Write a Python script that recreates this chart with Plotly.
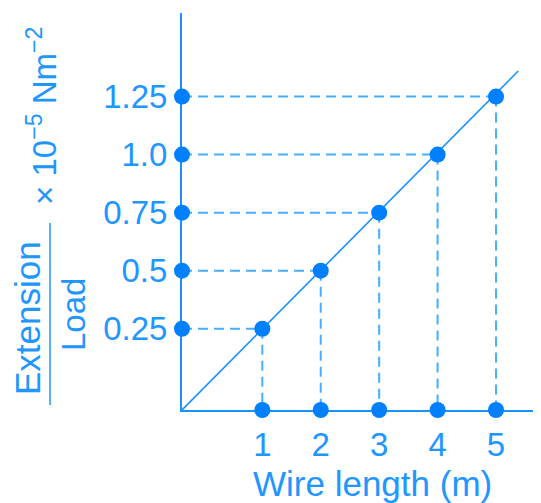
import plotly.graph_objects as go

# ---- data ----
wire_length = [1, 2, 3, 4, 5]
ext_per_load = [0.25, 0.5, 0.75, 1.0, 1.25]
y_tick_labels = ["0.25", "0.5", "0.75", "1.0", "1.25"]
x_tick_labels = ["1", "2", "3", "4", "5"]
axis_origin = (-0.375, -0.1)      # where the two axes meet
line_end = (5.38, 1.36)           # end of the straight line
x_range = [-0.375, 5.77]
y_range = [-0.1, 1.61]

TXT = "rgb(33,150,255)"
AX = "rgb(25,145,255)"
DOT = "rgb(0,128,255)"
DASH = "rgb(70,175,255)"
FONT = "Liberation Sans"

x0, y0 = axis_origin

# dashed guide lines
hx, hy, vx, vy = [], [], [], []
for x, y in zip(wire_length, ext_per_load):
    hx += [x0, x, None]
    hy += [y, y, None]
    vx += [x, x, None]
    vy += [y, y0, None]

fig = go.Figure()
fig.add_trace(go.Scatter(x=hx, y=hy, mode="lines",
                         line=dict(color=DASH, width=2, dash="10px,6px"),
                         hoverinfo="skip", cliponaxis=False))
fig.add_trace(go.Scatter(x=vx, y=vy, mode="lines",
                         line=dict(color=DASH, width=2, dash="10px,6px"),
                         hoverinfo="skip", cliponaxis=False))
fig.add_trace(go.Scatter(x=[x0, line_end[0]], y=[y0, line_end[1]], mode="lines",
                         line=dict(color=AX, width=1.6), cliponaxis=False))
# dots on the line, on the y axis and on the x axis
fig.add_trace(go.Scatter(
    x=wire_length + [x0] * len(ext_per_load) + wire_length,
    y=ext_per_load + ext_per_load + [y0] * len(wire_length),
    mode="markers", marker=dict(color=DOT, size=16, line=dict(width=0)),
    cliponaxis=False))

# page pixel -> paper fraction (page has an 8px body margin)
frac_paper = lambda px: (px - 182) / 359
fy = lambda py: (410 - py) / 397

fig.update_layout(
    width=533, height=495,
    margin=dict(l=174, r=0, t=5, b=93, autoexpand=False),
    paper_bgcolor="white", plot_bgcolor="white",
    showlegend=False,
    font=dict(family=FONT, color=TXT),
    xaxis=dict(range=x_range, showgrid=False, zeroline=False, showline=True,
               linecolor=AX, linewidth=2, ticks="", tickvals=wire_length,
               ticktext=x_tick_labels, tickfont=dict(size=33, color=TXT, family=FONT),
               ticklabelstandoff=4, layer="below traces", fixedrange=True),
    yaxis=dict(range=y_range, showgrid=False, zeroline=False, showline=True,
               linecolor=AX, linewidth=2, ticks="", tickvals=ext_per_load,
               ticktext=y_tick_labels, tickfont=dict(size=33, color=TXT, family=FONT),
               ticklabelstandoff=6, layer="below traces", fixedrange=True),
    annotations=[
        dict(text="Wire length (m)", x=frac_paper(372), y=fy(483), xref="paper", yref="paper",
             showarrow=False, font=dict(size=35, color=TXT, family=FONT),
             xanchor="center", yanchor="middle"),
        dict(text="Extension", x=frac_paper(27), y=fy(318), xref="paper", yref="paper",
             showarrow=False, textangle=-90, font=dict(size=35, color=TXT, family=FONT),
             xanchor="center", yanchor="middle"),
        dict(text="Load", x=frac_paper(73), y=fy(314), xref="paper", yref="paper",
             showarrow=False, textangle=-90, font=dict(size=33, color=TXT, family=FONT),
             xanchor="center", yanchor="middle"),
        dict(text="× 10<sup>−5</sup> Nm<sup>−2</sup>", x=frac_paper(42), y=fy(116),
             xref="paper", yref="paper", showarrow=False, textangle=-90,
             font=dict(size=33, color=TXT, family=FONT), xanchor="center", yanchor="middle"),
    ],
    shapes=[dict(type="line", xref="paper", yref="paper",
                 x0=frac_paper(50), x1=frac_paper(50), y0=fy(223), y1=fy(405),
                 line=dict(color=TXT, width=1.5))],
)

fig.write_html("out.html")
